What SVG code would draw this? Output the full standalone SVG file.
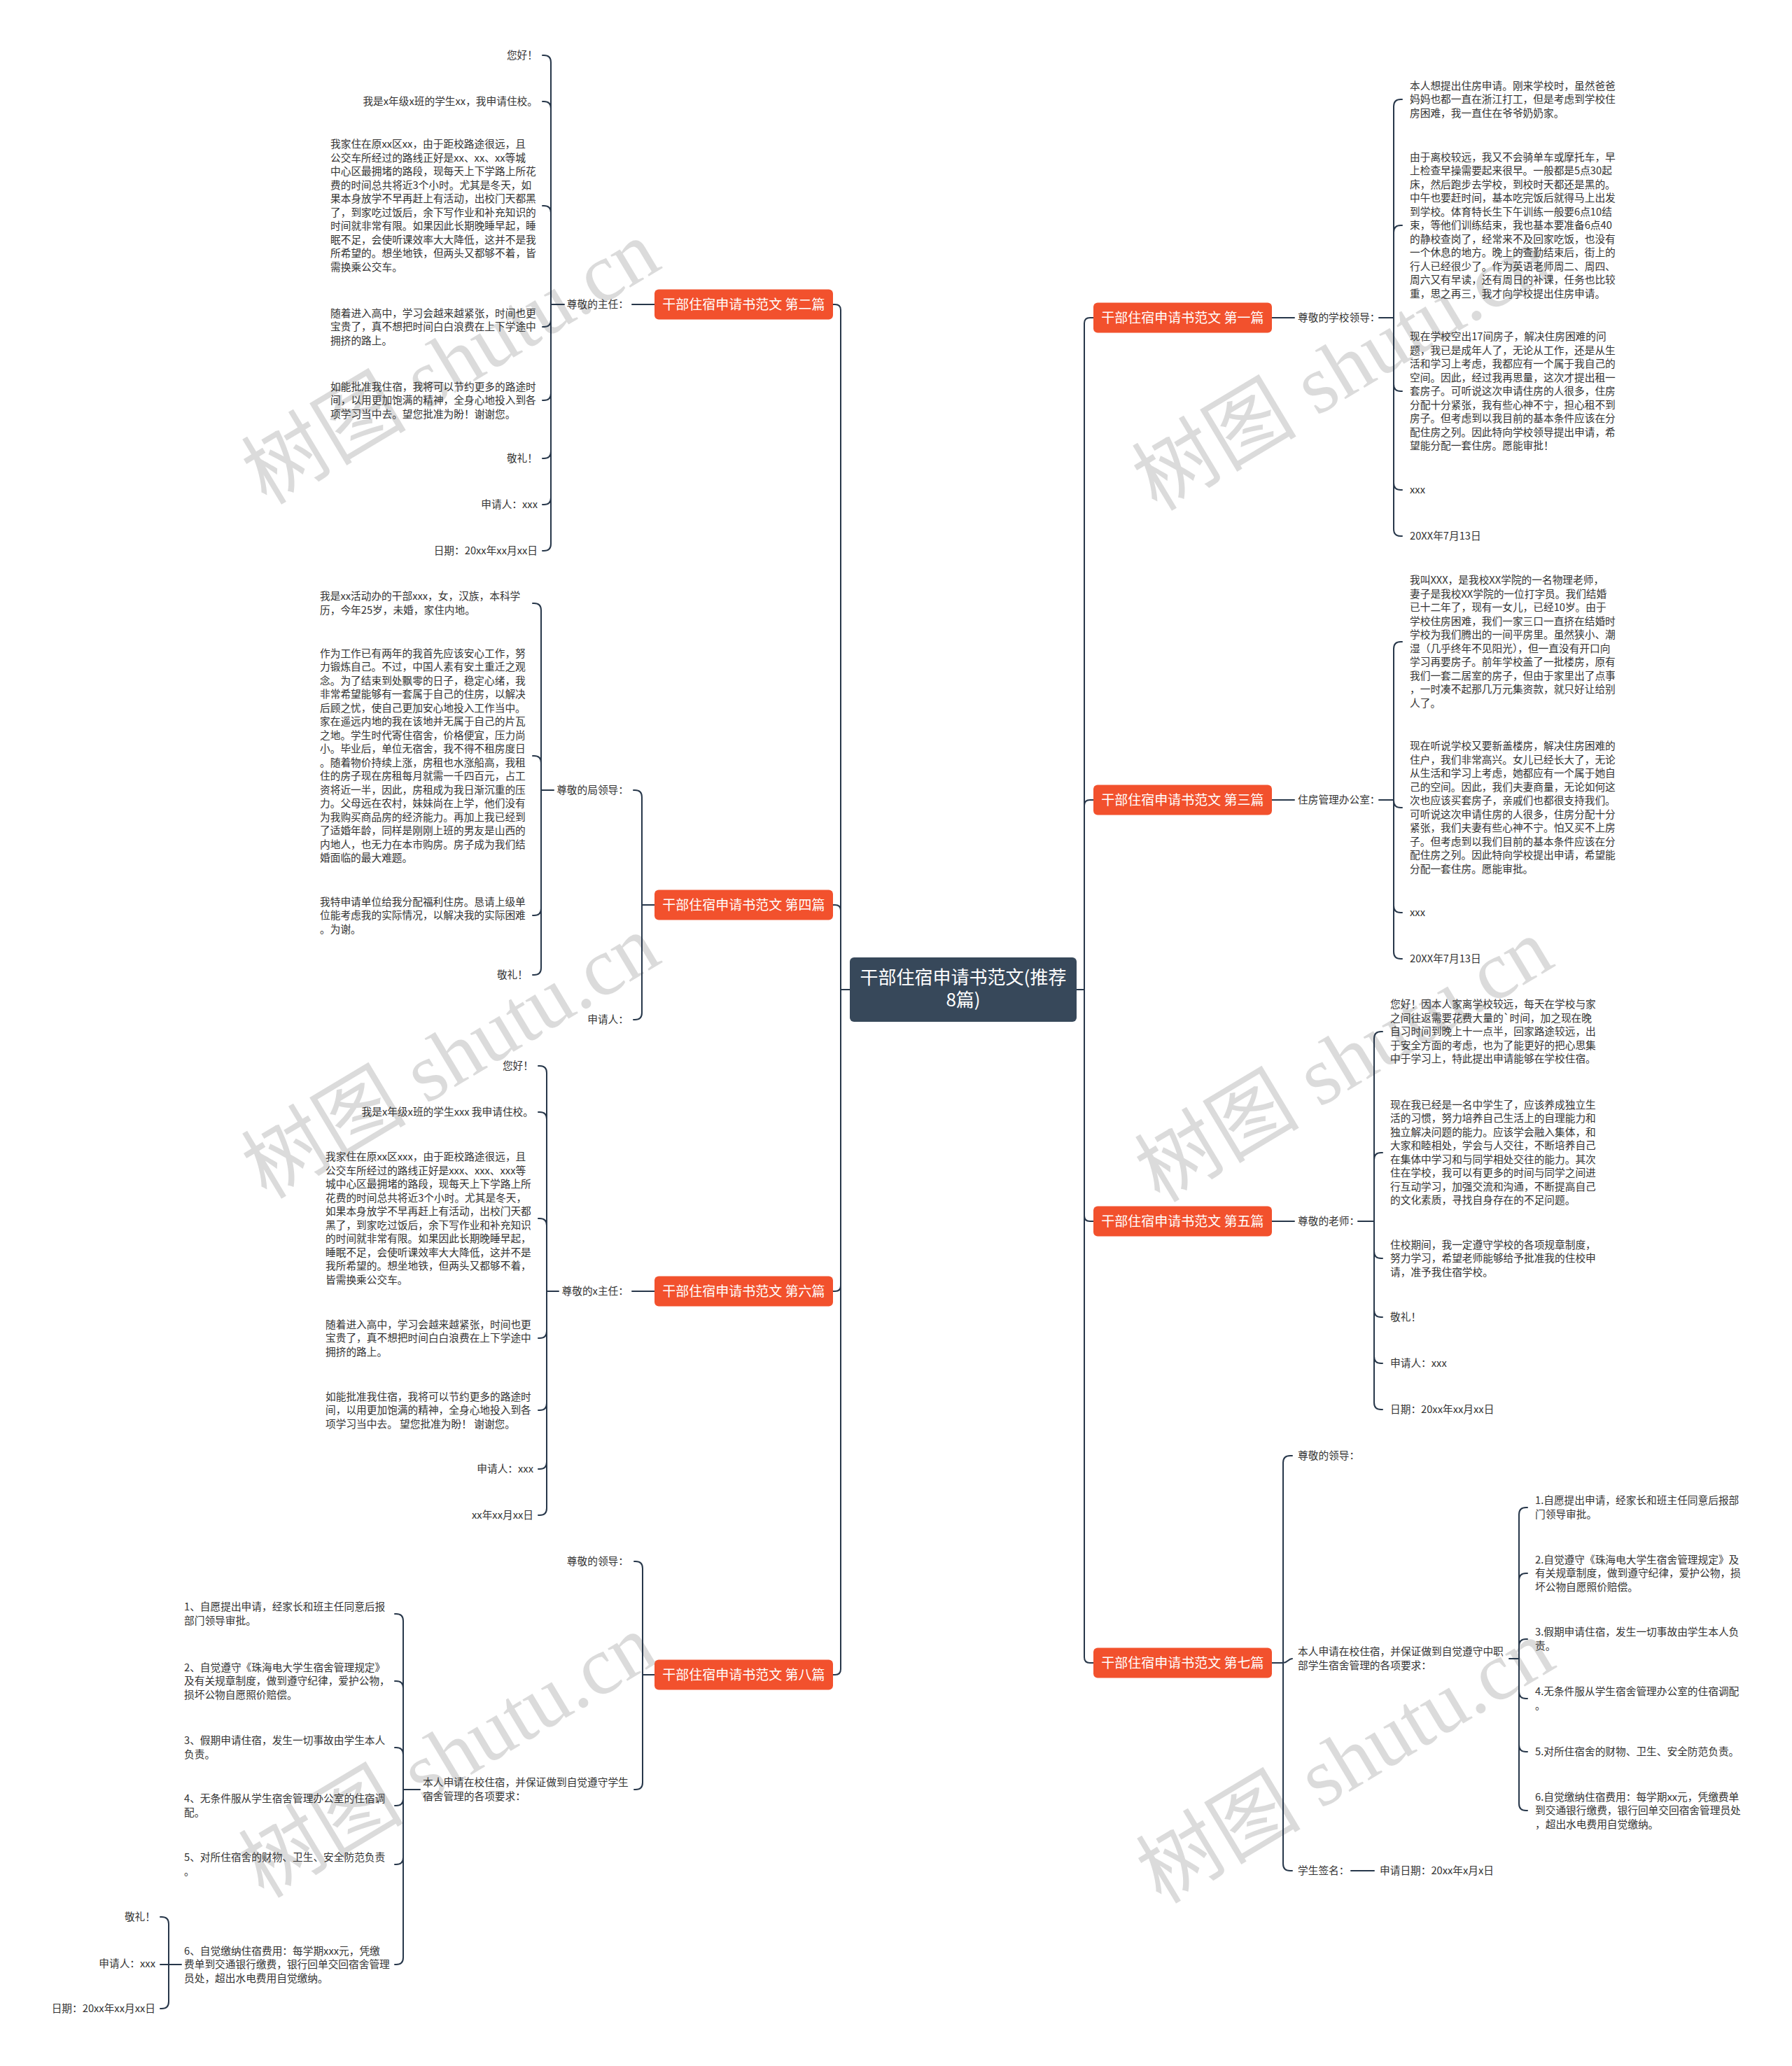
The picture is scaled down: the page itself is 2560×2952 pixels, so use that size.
<svg xmlns="http://www.w3.org/2000/svg" width="2560" height="2952" viewBox="0 0 2560 2952">
<style>
.t{font-family:"Noto Sans CJK SC","Noto Sans",sans-serif;font-size:14.7px;fill:#333333}
.e{text-anchor:end}
.n{font-family:"Noto Sans CJK SC","Noto Sans",sans-serif;font-size:19px;fill:#ffffff;text-anchor:middle}
.c{font-family:"Noto Sans CJK SC","Noto Sans",sans-serif;font-size:26px;fill:#ffffff;text-anchor:middle}
.nr{fill:#F2512D}
.cr{fill:#37485A}
.ln{fill:none;stroke:#27374a;stroke-width:2;stroke-linecap:round;stroke-linejoin:round}
.wm{font-size:118px;fill:#bdbdbd;fill-opacity:0.55;text-anchor:middle}
.wa{font-family:"Noto Sans CJK SC",sans-serif}
.wb{font-family:"Liberation Serif",serif}
</style>
<rect width="2560" height="2952" fill="#ffffff"/>
<g id="watermarks">
<text class="wm" x="644" y="558" transform="rotate(-31 644 518)"><tspan class="wa">树图</tspan><tspan class="wb"> shutu.cn</tspan></text>
<text class="wm" x="1916" y="567" transform="rotate(-31 1916 527)"><tspan class="wa">树图</tspan><tspan class="wb"> shutu.cn</tspan></text>
<text class="wm" x="644" y="1550" transform="rotate(-31 644 1510)"><tspan class="wa">树图</tspan><tspan class="wb"> shutu.cn</tspan></text>
<text class="wm" x="1920" y="1555" transform="rotate(-31 1920 1515)"><tspan class="wa">树图</tspan><tspan class="wb"> shutu.cn</tspan></text>
<text class="wm" x="640" y="2549" transform="rotate(-31 640 2509)"><tspan class="wa">树图</tspan><tspan class="wb"> shutu.cn</tspan></text>
<text class="wm" x="1922" y="2557" transform="rotate(-31 1922 2517)"><tspan class="wa">树图</tspan><tspan class="wb"> shutu.cn</tspan></text>
</g>
<g id="connectors">
<path class="ln" d="M1214 1414 H1201 M1201 1414 V443 Q1201 435 1193 435 H1190 M1201 1414 V1301 Q1201 1293 1193 1293 H1190 M1201 1414 V1837 Q1201 1845 1193 1845 H1190 M1201 1414 V2385 Q1201 2393 1193 2393 H1190"/>
<path class="ln" d="M1538 1414 H1549 M1549 1414 V462 Q1549 454 1557 454 H1562 M1549 1414 V1151 Q1549 1143 1557 1143 H1562 M1549 1414 V1737 Q1549 1745 1557 1745 H1562 M1549 1414 V2368 Q1549 2376 1557 2376 H1562"/>
<path class="ln" d="M935 435 H903 M806 435 H787 M787 435 V89 Q787 79 777 79 H775 M787 435 V155 Q787 145 777 145 H775 M787 435 V304 Q787 294 777 294 H775 M787 435 V457 Q787 467 777 467 H775 M787 435 V562 Q787 572 777 572 H775 M787 435 V645 Q787 655 777 655 H775 M787 435 V711 Q787 721 777 721 H775 M787 435 V777 Q787 787 777 787 H775"/>
<path class="ln" d="M935 1293 H917 M917 1293 V1139 Q917 1129 907 1129 H905 M917 1293 V1447 Q917 1457 907 1457 H905 M791 1129 H773 M773 1129 V872 Q773 862 763 862 H761 M773 1129 V1090 Q773 1080 763 1080 H761 M773 1129 V1298 Q773 1308 763 1308 H761 M773 1129 V1383 Q773 1393 763 1393 H761"/>
<path class="ln" d="M935 1845 H903 M798 1845 H781 M781 1845 V1533 Q781 1523 771 1523 H769 M781 1845 V1599 Q781 1589 771 1589 H769 M781 1845 V1751 Q781 1741 771 1741 H769 M781 1845 V1902 Q781 1912 771 1912 H769 M781 1845 V2005 Q781 2015 771 2015 H769 M781 1845 V2089 Q781 2099 771 2099 H769 M781 1845 V2155 Q781 2165 771 2165 H769"/>
<path class="ln" d="M935 2393 H918 M918 2393 V2241 Q918 2231 908 2231 H906 M918 2393 V2547 Q918 2557 908 2557 H906 M600 2557 H576 M576 2557 V2316 Q576 2306 566 2306 H564 M576 2557 V2412 Q576 2402 566 2402 H564 M576 2557 V2507 Q576 2497 566 2497 H564 M576 2557 V2570 Q576 2580 566 2580 H564 M576 2557 V2654 Q576 2664 566 2664 H564 M576 2557 V2797 Q576 2807 566 2807 H564 M259 2807 H241 M241 2807 V2749 Q241 2739 231 2739 H229 M241 2807 H229 M241 2807 V2860 Q241 2870 231 2870 H229"/>
<path class="ln" d="M1817 454 H1849 M1970 454 H1991 M1991 454 V152 Q1991 142 2001 142 H2003 M1991 454 V332 Q1991 322 2001 322 H2003 M1991 454 V549 Q1991 559 2001 559 H2003 M1991 454 V690 Q1991 700 2001 700 H2003 M1991 454 V756 Q1991 766 2001 766 H2003"/>
<path class="ln" d="M1817 1143 H1849 M1970 1143 H1991 M1991 1143 V927 Q1991 917 2001 917 H2003 M1991 1143 V1144 Q1991 1154 2001 1154 H2003 M1991 1143 V1294 Q1991 1304 2001 1304 H2003 M1991 1143 V1360 Q1991 1370 2001 1370 H2003"/>
<path class="ln" d="M1817 1745 H1849 M1940 1745 H1963 M1963 1745 V1484 Q1963 1474 1973 1474 H1975 M1963 1745 V1657 Q1963 1647 1973 1647 H1975 M1963 1745 V1788 Q1963 1798 1973 1798 H1975 M1963 1745 V1872 Q1963 1882 1973 1882 H1975 M1963 1745 V1938 Q1963 1948 1973 1948 H1975 M1963 1745 V2004 Q1963 2014 1973 2014 H1975"/>
<path class="ln" d="M1817 2376 H1833 M1833 2376 V2090 Q1833 2080 1843 2080 H1846 M1833 2376 C1840 2376 1840 2370 1846 2370 M1833 2376 V2663 Q1833 2673 1843 2673 H1846 M1930 2673 H1963 M2156 2370 H2170 M2170 2370 V2164 Q2170 2154 2180 2154 H2182 M2170 2370 V2258 Q2170 2248 2180 2248 H2182 M2170 2370 V2352 Q2170 2342 2180 2342 H2182 M2170 2370 V2417 Q2170 2427 2180 2427 H2182 M2170 2370 V2493 Q2170 2503 2180 2503 H2182 M2170 2370 V2577 Q2170 2587 2180 2587 H2182"/>
</g>
<g id="center"><rect class="cr" x="1214" y="1368" width="324" height="92" rx="6"/><text class="c" x="1376" y="1406">干部住宿申请书范文(推荐</text><text class="c" x="1376" y="1438">8篇)</text></g>
<g id="node-2"><rect class="nr" x="935" y="413.5" width="255" height="43" rx="6"/><text class="n" x="1062.5" y="442">干部住宿申请书范文 第二篇</text></g>
<g id="node-4"><rect class="nr" x="935" y="1271.5" width="255" height="43" rx="6"/><text class="n" x="1062.5" y="1300">干部住宿申请书范文 第四篇</text></g>
<g id="node-6"><rect class="nr" x="935" y="1823.5" width="255" height="43" rx="6"/><text class="n" x="1062.5" y="1852">干部住宿申请书范文 第六篇</text></g>
<g id="node-8"><rect class="nr" x="935" y="2371.5" width="255" height="43" rx="6"/><text class="n" x="1062.5" y="2400">干部住宿申请书范文 第八篇</text></g>
<g id="node-1"><rect class="nr" x="1562" y="432.5" width="255" height="43" rx="6"/><text class="n" x="1689.5" y="461">干部住宿申请书范文 第一篇</text></g>
<g id="node-3"><rect class="nr" x="1562" y="1121.5" width="255" height="43" rx="6"/><text class="n" x="1689.5" y="1150">干部住宿申请书范文 第三篇</text></g>
<g id="node-5"><rect class="nr" x="1562" y="1723.5" width="255" height="43" rx="6"/><text class="n" x="1689.5" y="1752">干部住宿申请书范文 第五篇</text></g>
<g id="node-7"><rect class="nr" x="1562" y="2354.5" width="255" height="43" rx="6"/><text class="n" x="1689.5" y="2383">干部住宿申请书范文 第七篇</text></g>

<g id="n2-label"><text class="t e" x="898" y="440">尊敬的主任：</text></g>
<g id="n2-c1"><text class="t e" x="768" y="84">您好！</text></g>
<g id="n2-c2"><text class="t e" x="768" y="150">我是x年级x班的学生xx，我申请住校。</text></g>
<g id="n2-c3"><text class="t" x="472" y="211.25"><tspan x="472">我家住在原xx区xx，由于距校路途很远，且</tspan><tspan x="472" dy="19.5">公交车所经过的路线正好是xx、xx、xx等城</tspan><tspan x="472" dy="19.5">中心区最拥堵的路段，现每天上下学路上所花</tspan><tspan x="472" dy="19.5">费的时间总共将近3个小时。尤其是冬天，如</tspan><tspan x="472" dy="19.5">果本身放学不早再赶上有活动，出校门天都黑</tspan><tspan x="472" dy="19.5">了，到家吃过饭后，余下写作业和补充知识的</tspan><tspan x="472" dy="19.5">时间就非常有限。如果因此长期晚睡早起，睡</tspan><tspan x="472" dy="19.5">眠不足，会使听课效率大大降低，这并不是我</tspan><tspan x="472" dy="19.5">所希望的。想坐地铁，但两头又都够不着，皆</tspan><tspan x="472" dy="19.5">需换乘公交车。</tspan></text></g>
<g id="n2-c4"><text class="t" x="472" y="452.5"><tspan x="472">随着进入高中，学习会越来越紧张，时间也更</tspan><tspan x="472" dy="19.5">宝贵了，真不想把时间白白浪费在上下学途中</tspan><tspan x="472" dy="19.5">拥挤的路上。</tspan></text></g>
<g id="n2-c5"><text class="t" x="472" y="557.5"><tspan x="472">如能批准我住宿，我将可以节约更多的路途时</tspan><tspan x="472" dy="19.5">间，以用更加饱满的精神，全身心地投入到各</tspan><tspan x="472" dy="19.5">项学习当中去。望您批准为盼！谢谢您。</tspan></text></g>
<g id="n2-c6"><text class="t e" x="768" y="660">敬礼！</text></g>
<g id="n2-c7"><text class="t e" x="768" y="726">申请人：xxx</text></g>
<g id="n2-c8"><text class="t e" x="768" y="792">日期：20xx年xx月xx日</text></g>

<g id="n4-label"><text class="t e" x="898" y="1134">尊敬的局领导：</text></g>
<g id="n4-label2"><text class="t e" x="898" y="1462">申请人：</text></g>
<g id="n4-c1"><text class="t" x="457" y="857.25"><tspan x="457">我是xx活动办的干部xxx，女，汉族，本科学</tspan><tspan x="457" dy="19.5">历，今年25岁，未婚，家住内地。</tspan></text></g>
<g id="n4-c2"><text class="t" x="457" y="938.75"><tspan x="457">作为工作已有两年的我首先应该安心工作，努</tspan><tspan x="457" dy="19.5">力锻炼自己。不过，中国人素有安土重迁之观</tspan><tspan x="457" dy="19.5">念。为了结束到处飘零的日子，稳定心绪，我</tspan><tspan x="457" dy="19.5">非常希望能够有一套属于自己的住房，以解决</tspan><tspan x="457" dy="19.5">后顾之忧，使自己更加安心地投入工作当中。</tspan><tspan x="457" dy="19.5">家在遥远内地的我在该地并无属于自己的片瓦</tspan><tspan x="457" dy="19.5">之地。学生时代寄住宿舍，价格便宜，压力尚</tspan><tspan x="457" dy="19.5">小。毕业后，单位无宿舍，我不得不租房度日</tspan><tspan x="457" dy="19.5">。随着物价持续上涨，房租也水涨船高，我租</tspan><tspan x="457" dy="19.5">住的房子现在房租每月就需一千四百元，占工</tspan><tspan x="457" dy="19.5">资将近一半，因此，房租成为我日渐沉重的压</tspan><tspan x="457" dy="19.5">力。父母远在农村，妹妹尚在上学，他们没有</tspan><tspan x="457" dy="19.5">为我购买商品房的经济能力。再加上我已经到</tspan><tspan x="457" dy="19.5">了适婚年龄，同样是刚刚上班的男友是山西的</tspan><tspan x="457" dy="19.5">内地人，也无力在本市购房。房子成为我们结</tspan><tspan x="457" dy="19.5">婚面临的最大难题。</tspan></text></g>
<g id="n4-c3"><text class="t" x="457" y="1293.5"><tspan x="457">我特申请单位给我分配福利住房。恳请上级单</tspan><tspan x="457" dy="19.5">位能考虑我的实际情况，以解决我的实际困难</tspan><tspan x="457" dy="19.5">。为谢。</tspan></text></g>
<g id="n4-c4"><text class="t e" x="754" y="1398">敬礼！</text></g>

<g id="n6-label"><text class="t e" x="898" y="1850">尊敬的x主任：</text></g>
<g id="n6-c1"><text class="t e" x="762" y="1528">您好！</text></g>
<g id="n6-c2"><text class="t e" x="762" y="1594">我是x年级x班的学生xxx 我申请住校。</text></g>
<g id="n6-c3"><text class="t" x="465" y="1658.25"><tspan x="465">我家住在原xx区xxx，由于距校路途很远，且</tspan><tspan x="465" dy="19.5">公交车所经过的路线正好是xxx、xxx、xxx等</tspan><tspan x="465" dy="19.5">城中心区最拥堵的路段，现每天上下学路上所</tspan><tspan x="465" dy="19.5">花费的时间总共将近3个小时。尤其是冬天，</tspan><tspan x="465" dy="19.5">如果本身放学不早再赶上有活动，出校门天都</tspan><tspan x="465" dy="19.5">黑了，到家吃过饭后，余下写作业和补充知识</tspan><tspan x="465" dy="19.5">的时间就非常有限。如果因此长期晚睡早起，</tspan><tspan x="465" dy="19.5">睡眠不足，会使听课效率大大降低，这并不是</tspan><tspan x="465" dy="19.5">我所希望的。想坐地铁，但两头又都够不着，</tspan><tspan x="465" dy="19.5">皆需换乘公交车。</tspan></text></g>
<g id="n6-c4"><text class="t" x="465" y="1897.5"><tspan x="465">随着进入高中，学习会越来越紧张，时间也更</tspan><tspan x="465" dy="19.5">宝贵了，真不想把时间白白浪费在上下学途中</tspan><tspan x="465" dy="19.5">拥挤的路上。</tspan></text></g>
<g id="n6-c5"><text class="t" x="465" y="2000.5"><tspan x="465">如能批准我住宿，我将可以节约更多的路途时</tspan><tspan x="465" dy="19.5">间，以用更加饱满的精神，全身心地投入到各</tspan><tspan x="465" dy="19.5">项学习当中去。 望您批准为盼！ 谢谢您。</tspan></text></g>
<g id="n6-c6"><text class="t e" x="762" y="2104">申请人：xxx</text></g>
<g id="n6-c7"><text class="t e" x="762" y="2170">xx年xx月xx日</text></g>

<g id="n8-label"><text class="t e" x="898" y="2236">尊敬的领导：</text></g>
<g id="n8-label2"><text class="t" x="604" y="2552"><tspan x="604">本人申请在校住宿，并保证做到自觉遵守学生</tspan><tspan x="604" dy="19.5">宿舍管理的各项要求：</tspan></text></g>
<g id="n8-c1"><text class="t" x="263" y="2301.25"><tspan x="263">1、自愿提出申请，经家长和班主任同意后报</tspan><tspan x="263" dy="19.5">部门领导审批。</tspan></text></g>
<g id="n8-c2"><text class="t" x="263" y="2387.5"><tspan x="263">2、自觉遵守《珠海电大学生宿舍管理规定》</tspan><tspan x="263" dy="19.5">及有关规章制度，做到遵守纪律，爱护公物，</tspan><tspan x="263" dy="19.5">损坏公物自愿照价赔偿。</tspan></text></g>
<g id="n8-c3"><text class="t" x="263" y="2492.25"><tspan x="263">3、假期申请住宿，发生一切事故由学生本人</tspan><tspan x="263" dy="19.5">负责。</tspan></text></g>
<g id="n8-c4"><text class="t" x="263" y="2575.25"><tspan x="263">4、无条件服从学生宿舍管理办公室的住宿调</tspan><tspan x="263" dy="19.5">配。</tspan></text></g>
<g id="n8-c5"><text class="t" x="263" y="2659.25"><tspan x="263">5、对所住宿舍的财物、卫生、安全防范负责</tspan><tspan x="263" dy="19.5">。</tspan></text></g>
<g id="n8-c6"><text class="t" x="263" y="2792.5"><tspan x="263">6、自觉缴纳住宿费用：每学期xxx元，凭缴</tspan><tspan x="263" dy="19.5">费单到交通银行缴费，银行回单交回宿舍管理</tspan><tspan x="263" dy="19.5">员处，超出水电费用自觉缴纳。</tspan></text></g>
<g id="n8-d1"><text class="t e" x="222" y="2744">敬礼！</text></g>
<g id="n8-d2"><text class="t e" x="222" y="2811">申请人：xxx</text></g>
<g id="n8-d3"><text class="t e" x="222" y="2875">日期：20xx年xx月xx日</text></g>

<g id="n1-label"><text class="t" x="1854" y="459">尊敬的学校领导：</text></g>
<g id="n1-c1"><text class="t" x="2014" y="127.5"><tspan x="2014">本人想提出住房申请。刚来学校时，虽然爸爸</tspan><tspan x="2014" dy="19.5">妈妈也都一直在浙江打工，但是考虑到学校住</tspan><tspan x="2014" dy="19.5">房困难，我一直住在爷爷奶奶家。</tspan></text></g>
<g id="n1-c2"><text class="t" x="2014" y="229.5"><tspan x="2014">由于离校较远，我又不会骑单车或摩托车，早</tspan><tspan x="2014" dy="19.5">上检查早操需要起来很早。一般都是5点30起</tspan><tspan x="2014" dy="19.5">床，然后跑步去学校，到校时天都还是黑的。</tspan><tspan x="2014" dy="19.5">中午也要赶时间，基本吃完饭后就得马上出发</tspan><tspan x="2014" dy="19.5">到学校。体育特长生下午训练一般要6点10结</tspan><tspan x="2014" dy="19.5">束，等他们训练结束，我也基本要准备6点40</tspan><tspan x="2014" dy="19.5">的静校查岗了，经常来不及回家吃饭，也没有</tspan><tspan x="2014" dy="19.5">一个休息的地方。晚上的查勤结束后，街上的</tspan><tspan x="2014" dy="19.5">行人已经很少了。作为英语老师周二、周四、</tspan><tspan x="2014" dy="19.5">周六又有早读，还有周日的补课，任务也比较</tspan><tspan x="2014" dy="19.5">重，思之再三，我才向学校提出住房申请。</tspan></text></g>
<g id="n1-c3"><text class="t" x="2014" y="486"><tspan x="2014">现在学校空出17间房子，解决住房困难的问</tspan><tspan x="2014" dy="19.5">题，我已是成年人了，无论从工作，还是从生</tspan><tspan x="2014" dy="19.5">活和学习上考虑，我都应有一个属于我自己的</tspan><tspan x="2014" dy="19.5">空间。因此，经过我再思量，这次才提出租一</tspan><tspan x="2014" dy="19.5">套房子。可听说这次申请住房的人很多，住房</tspan><tspan x="2014" dy="19.5">分配十分紧张，我有些心神不宁，担心租不到</tspan><tspan x="2014" dy="19.5">房子。但考虑到以我目前的基本条件应该在分</tspan><tspan x="2014" dy="19.5">配住房之列。因此特向学校领导提出申请，希</tspan><tspan x="2014" dy="19.5">望能分配一套住房。愿能审批！</tspan></text></g>
<g id="n1-c4"><text class="t" x="2014" y="705">xxx</text></g>
<g id="n1-c5"><text class="t" x="2014" y="771">20XX年7月13日</text></g>

<g id="n3-label"><text class="t" x="1854" y="1148">住房管理办公室：</text></g>
<g id="n3-c1"><text class="t" x="2014" y="834.25"><tspan x="2014">我叫XXX，是我校XX学院的一名物理老师，</tspan><tspan x="2014" dy="19.5">妻子是我校XX学院的一位打字员。我们结婚</tspan><tspan x="2014" dy="19.5">已十二年了，现有一女儿，已经10岁。由于</tspan><tspan x="2014" dy="19.5">学校住房困难，我们一家三口一直挤在结婚时</tspan><tspan x="2014" dy="19.5">学校为我们腾出的一间平房里。虽然狭小、潮</tspan><tspan x="2014" dy="19.5">湿（几乎终年不见阳光），但一直没有开口向</tspan><tspan x="2014" dy="19.5">学习再要房子。前年学校盖了一批楼房，原有</tspan><tspan x="2014" dy="19.5">我们一套二居室的房子，但由于家里出了点事</tspan><tspan x="2014" dy="19.5">，一时凑不起那几万元集资款，就只好让给别</tspan><tspan x="2014" dy="19.5">人了。</tspan></text></g>
<g id="n3-c2"><text class="t" x="2014" y="1071.25"><tspan x="2014">现在听说学校又要新盖楼房，解决住房困难的</tspan><tspan x="2014" dy="19.5">住户，我们非常高兴。女儿已经长大了，无论</tspan><tspan x="2014" dy="19.5">从生活和学习上考虑，她都应有一个属于她自</tspan><tspan x="2014" dy="19.5">己的空间。因此，我们夫妻商量，无论如何这</tspan><tspan x="2014" dy="19.5">次也应该买套房子，亲戚们也都很支持我们。</tspan><tspan x="2014" dy="19.5">可听说这次申请住房的人很多，住房分配十分</tspan><tspan x="2014" dy="19.5">紧张，我们夫妻有些心神不宁。怕又买不上房</tspan><tspan x="2014" dy="19.5">子。但考虑到以我们目前的基本条件应该在分</tspan><tspan x="2014" dy="19.5">配住房之列。因此特向学校提出申请，希望能</tspan><tspan x="2014" dy="19.5">分配一套住房。愿能审批。</tspan></text></g>
<g id="n3-c3"><text class="t" x="2014" y="1309">xxx</text></g>
<g id="n3-c4"><text class="t" x="2014" y="1375">20XX年7月13日</text></g>

<g id="n5-label"><text class="t" x="1854" y="1750">尊敬的老师：</text></g>
<g id="n5-c1"><text class="t" x="1986" y="1440"><tspan x="1986">您好！因本人家离学校较远，每天在学校与家</tspan><tspan x="1986" dy="19.5">之间往返需要花费大量的`时间，加之现在晚</tspan><tspan x="1986" dy="19.5">自习时间到晚上十一点半，回家路途较远，出</tspan><tspan x="1986" dy="19.5">于安全方面的考虑，也为了能更好的把心思集</tspan><tspan x="1986" dy="19.5">中于学习上，特此提出申请能够在学校住宿。</tspan></text></g>
<g id="n5-c2"><text class="t" x="1986" y="1583.75"><tspan x="1986">现在我已经是一名中学生了，应该养成独立生</tspan><tspan x="1986" dy="19.5">活的习惯，努力培养自己生活上的自理能力和</tspan><tspan x="1986" dy="19.5">独立解决问题的能力。应该学会融入集体，和</tspan><tspan x="1986" dy="19.5">大家和睦相处，学会与人交往，不断培养自己</tspan><tspan x="1986" dy="19.5">在集体中学习和与同学相处交往的能力。其次</tspan><tspan x="1986" dy="19.5">住在学校，我可以有更多的时间与同学之间进</tspan><tspan x="1986" dy="19.5">行互动学习，加强交流和沟通，不断提高自己</tspan><tspan x="1986" dy="19.5">的文化素质，寻找自身存在的不足问题。</tspan></text></g>
<g id="n5-c3"><text class="t" x="1986" y="1783.5"><tspan x="1986">住校期间，我一定遵守学校的各项规章制度，</tspan><tspan x="1986" dy="19.5">努力学习，希望老师能够给予批准我的住校申</tspan><tspan x="1986" dy="19.5">请，准予我住宿学校。</tspan></text></g>
<g id="n5-c4"><text class="t" x="1986" y="1887">敬礼！</text></g>
<g id="n5-c5"><text class="t" x="1986" y="1953">申请人：xxx</text></g>
<g id="n5-c6"><text class="t" x="1986" y="2019">日期：20xx年xx月xx日</text></g>

<g id="n7-label"><text class="t" x="1854" y="2085">尊敬的领导：</text></g>
<g id="n7-label2"><text class="t" x="1854" y="2365.25"><tspan x="1854">本人申请在校住宿，并保证做到自觉遵守中职</tspan><tspan x="1854" dy="19.5">部学生宿舍管理的各项要求：</tspan></text></g>
<g id="n7-label3"><text class="t" x="1854" y="2678">学生签名：</text></g>
<g id="n7-d1"><text class="t" x="1971" y="2678">申请日期：20xx年x月x日</text></g>
<g id="n7-c1"><text class="t" x="2193" y="2149.25"><tspan x="2193">1.自愿提出申请，经家长和班主任同意后报部</tspan><tspan x="2193" dy="19.5">门领导审批。</tspan></text></g>
<g id="n7-c2"><text class="t" x="2193" y="2233.5"><tspan x="2193">2.自觉遵守《珠海电大学生宿舍管理规定》及</tspan><tspan x="2193" dy="19.5">有关规章制度，做到遵守纪律，爱护公物，损</tspan><tspan x="2193" dy="19.5">坏公物自愿照价赔偿。</tspan></text></g>
<g id="n7-c3"><text class="t" x="2193" y="2337.25"><tspan x="2193">3.假期申请住宿，发生一切事故由学生本人负</tspan><tspan x="2193" dy="19.5">责。</tspan></text></g>
<g id="n7-c4"><text class="t" x="2193" y="2422.25"><tspan x="2193">4.无条件服从学生宿舍管理办公室的住宿调配</tspan><tspan x="2193" dy="19.5">。</tspan></text></g>
<g id="n7-c5"><text class="t" x="2193" y="2508">5.对所住宿舍的财物、卫生、安全防范负责。</text></g>
<g id="n7-c6"><text class="t" x="2193" y="2572.5"><tspan x="2193">6.自觉缴纳住宿费用：每学期xx元，凭缴费单</tspan><tspan x="2193" dy="19.5">到交通银行缴费，银行回单交回宿舍管理员处</tspan><tspan x="2193" dy="19.5">，超出水电费用自觉缴纳。</tspan></text></g>
</svg>
